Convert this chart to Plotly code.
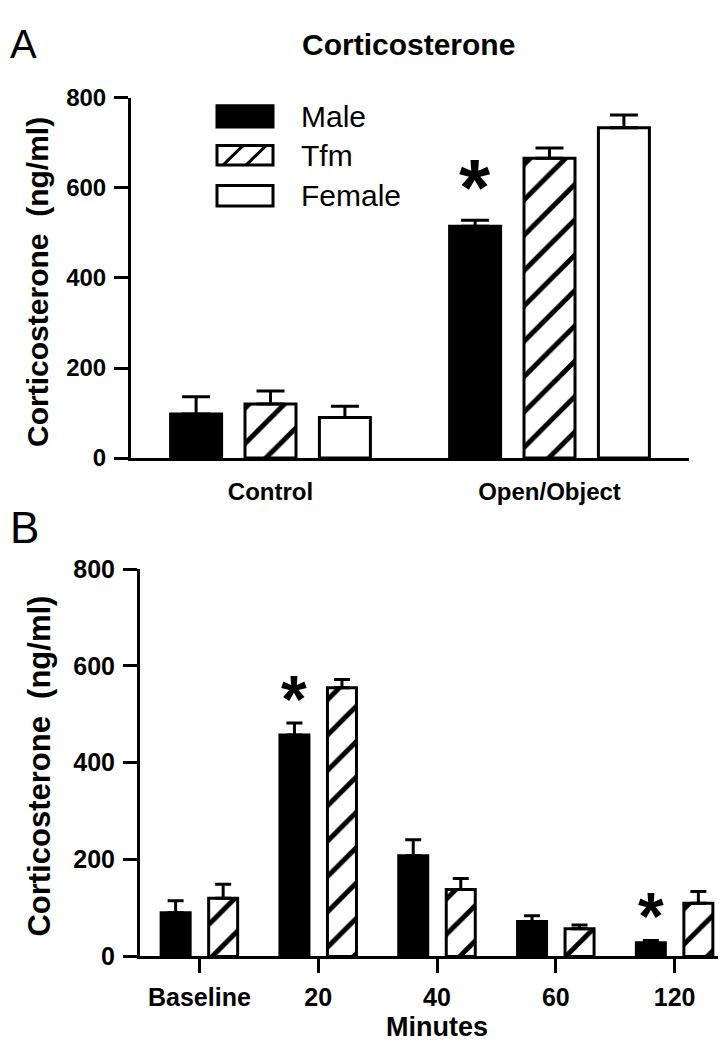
import plotly.graph_objects as go

# ---------------- data ----------------
groups_a = ["Control", "Open/Object"]
male_a = [98, 515]
male_a_err = [38, 13]
tfm_a = [120, 666]
tfm_a_err = [29, 23]
female_a = [90, 734]
female_a_err = [25, 28]
male_a_sig = [False, True]

times_b = ["Baseline", "20", "40", "60", "120"]
male_b = [90, 457, 208, 72, 28]
male_b_err = [25, 25, 33, 12, 5]
tfm_b = [120, 555, 138, 57, 110]
tfm_b_err = [29, 17, 23, 8, 24]
male_b_sig = [False, True, False, False, True]

y_ticks = [0, 200, 400, 600, 800]
series_names = ["Male", "Tfm", "Female"]

# ---------------- layout constants ----------------
W, H = 726, 1050
FONT = "Liberation Sans, Arial, sans-serif"
BARGAP, GROUPGAP = 0.2, 0.3

ax_a = (123, 681, 448, 78)   # x0, x1, y(0), y(800) in pixels
ax_b = (132, 726, 960, 562)
bar_px_a = 51                # bar fill width in px
bar_px_b = 29


def px_x(p):
    return p / W


def px_y(p):
    return 1 - p / H


def cat_width(ax, n):
    return (ax[1] - ax[0]) / n


wa = bar_px_a / cat_width(ax_a, len(groups_a))
wb = bar_px_b / cat_width(ax_b, len(times_b))

fig = go.Figure()

line = dict(color="black", width=3)
hatch = dict(shape="/", fgcolor="black", bgcolor="white", fgopacity=1,
             size=25, solidity=0.2, fillmode="replace")
errstyle = dict(type="data", symmetric=False, color="black", thickness=3)


def bar(x, y, err, name, fill, xa, ya, w, cap, legend):
    marker = dict(color=fill, line=line)
    if fill == "hatch":
        marker = dict(color="white", pattern=hatch, line=line)
    return go.Bar(x=x, y=y, name=name, xaxis=xa, yaxis=ya, width=w, marker=marker,
                  showlegend=legend,
                  error_y=dict(array=err, arrayminus=[0] * len(err), width=cap, **errstyle))


# Panel A
fig.add_trace(bar(groups_a, male_a, male_a_err, "Male", "black", "x", "y", wa, 14, True))
fig.add_trace(bar(groups_a, tfm_a, tfm_a_err, "Tfm", "hatch", "x", "y", wa, 14, True))
fig.add_trace(bar(groups_a, female_a, female_a_err, "Female", "white", "x", "y", wa, 14, True))
# Panel B
fig.add_trace(bar(times_b, male_b, male_b_err, "Male", "black", "x2", "y2", wb, 8, False))
fig.add_trace(bar(times_b, tfm_b, tfm_b_err, "Tfm", "hatch", "x2", "y2", wb, 8, False))

font_a = dict(family=FONT, size=24, color="black", weight="bold")
font_b = dict(family=FONT, size=25, color="black", weight="bold")
axis_common = dict(showline=True, linecolor="black", linewidth=3, showgrid=False, zeroline=False)
ytick = dict(tickvals=y_ticks, ticks="outside", ticklen=14, tickwidth=3, tickcolor="black",
             range=[0, 800], ticklabelstandoff=3)

fig.update_layout(
    width=W, height=H,
    margin=dict(l=0, r=0, t=0, b=0),
    paper_bgcolor="white", plot_bgcolor="white",
    barmode="group", bargap=BARGAP, bargroupgap=GROUPGAP,
    showlegend=False,
    xaxis=dict(domain=[px_x(ax_a[0]), px_x(ax_a[1])], anchor="y", type="category",
               range=[-0.5, len(groups_a) - 0.5], ticks="", tickfont=font_a,
               ticklabelstandoff=10, **axis_common),
    yaxis=dict(domain=[px_y(ax_a[2]), px_y(ax_a[3])], anchor="x", tickfont=font_a,
               **ytick, **axis_common),
    xaxis2=dict(domain=[px_x(ax_b[0]), px_x(ax_b[1])], anchor="y2", type="category",
                range=[-0.5, len(times_b) - 0.5], ticks="outside", ticklen=14, tickwidth=3,
                tickcolor="black", tickfont=font_b, ticklabelstandoff=3, **axis_common),
    yaxis2=dict(domain=[px_y(ax_b[2]), px_y(ax_b[3])], anchor="x2", tickfont=font_b,
                **ytick, **axis_common),
)

annotations = []
# panel letters
annotations.append(dict(text="A", x=px_x(0), y=px_y(-2), xref="paper", yref="paper",
                        xanchor="left", yanchor="top", showarrow=False,
                        font=dict(family=FONT, size=40, color="black")))
annotations.append(dict(text="B", x=px_x(0), y=px_y(492), xref="paper", yref="paper",
                        xanchor="left", yanchor="top", showarrow=False,
                        font=dict(family=FONT, size=44, color="black")))
# title
annotations.append(dict(text="Corticosterone", x=px_x(400), y=px_y(23), xref="paper", yref="paper",
                        xanchor="center", yanchor="middle", showarrow=False,
                        font=dict(family=FONT, size=30, color="black", weight="bold")))
# y titles
for (x0, x1, y0, y1), xc, fs in ((ax_a, 30, 30), (ax_b, 32, 31)):
    annotations.append(dict(text="Corticosterone  (ng/ml)", x=px_x(xc), y=px_y((y0 + y1) / 2 + 4),
                            xref="paper", yref="paper", textangle=-90,
                            xanchor="center", yanchor="middle", showarrow=False,
                            font=dict(family=FONT, size=fs, color="black", weight="bold")))
# x title B
annotations.append(dict(text="Minutes", x=px_x((ax_b[0] + ax_b[1]) / 2), y=px_y(1050),
                        xref="paper", yref="paper", xanchor="center", yanchor="bottom",
                        showarrow=False, font=dict(family=FONT, size=27, color="black", weight="bold")))


# significance stars above the Male bars
def male_shift(ax, ncat, ntr):
    slot = cat_width(ax, ncat) * (1 - BARGAP) / ntr
    return -slot * (ntr - 1) / 2


for xs, ys, es, sig, xr, yr, ax, ntr, fs, ysh in (
        (groups_a, male_a, male_a_err, male_a_sig, "x", "y", ax_a, 3, 80, -14),
        (times_b, male_b, male_b_err, male_b_sig, "x2", "y2", ax_b, 2, 66, -15)):
    for i, (yv, ev, s) in enumerate(zip(ys, es, sig)):
        if s:
            annotations.append(dict(text="*", x=i, y=yv + ev, xref=xr, yref=yr,
                                    xshift=male_shift(ax, len(xs), ntr), yshift=ysh,
                                    xanchor="center", yanchor="bottom", showarrow=False,
                                    font=dict(family=FONT, size=fs, color="black", weight="bold")))

# custom legend (large swatches like the original)
shapes = []
leg_x0, leg_x1 = 209, 265
leg_rows = [(86, 108), (127, 147), (168, 189)]
for name, (t, b) in zip(series_names, leg_rows):
    fill = "black" if name == "Male" else "white"
    shapes.append(dict(type="rect", xref="paper", yref="paper",
                       x0=px_x(leg_x0), x1=px_x(leg_x1), y0=px_y(b), y1=px_y(t),
                       fillcolor=fill, line=dict(color="black", width=3)))
    if name == "Tfm":
        for k in range(2):
            shapes.append(dict(type="line", xref="paper", yref="paper",
                               x0=px_x(leg_x0 + 6 + k * 23), y0=px_y(b),
                               x1=px_x(leg_x0 + 6 + k * 23 + 20), y1=px_y(t),
                               line=dict(color="black", width=3)))
    annotations.append(dict(text=name, x=px_x(291), y=px_y((t + b) / 2), xref="paper", yref="paper",
                            xanchor="left", yanchor="middle", showarrow=False,
                            font=dict(family=FONT, size=30, color="black")))

fig.update_layout(annotations=annotations, shapes=shapes)

fig.write_html("out.html")
